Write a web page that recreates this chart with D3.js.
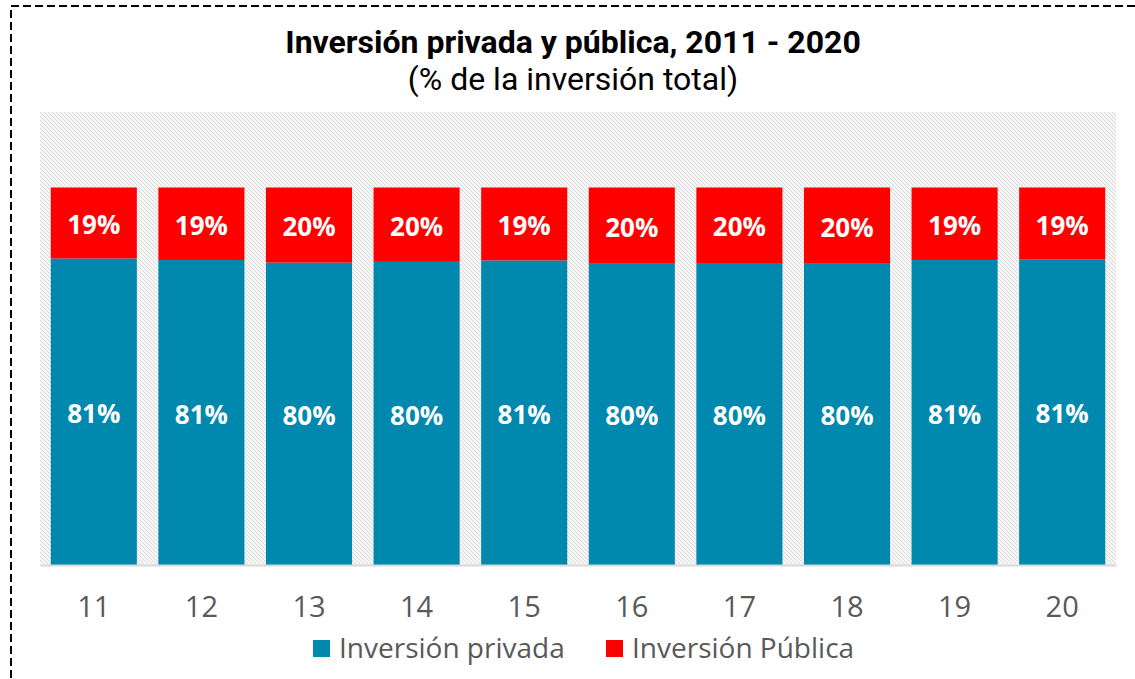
<!DOCTYPE html>
<html>
<head>
<meta charset="utf-8">
<script src="https://cdn.jsdelivr.net/npm/d3@7"></script>
<style>
  body { margin: 0; background: #fff; }
  svg { display: block; }
</style>
</head>
<body>
<svg width="1135" height="679"></svg>
<script>
var years = ["11", "12", "13", "14", "15", "16", "17", "18", "19", "20"];
var privada = [81.2, 80.8, 80.1, 80.3, 80.7, 79.8, 80.0, 79.8, 80.8, 80.9];
var publica = [18.8, 19.2, 19.9, 19.7, 19.3, 20.2, 20.0, 20.2, 19.2, 19.1];
var seriesNames = ["Inversión privada", "Inversión Pública"];
var colors = ["#0088ae", "#ff0000"];

var width = 1135;
var height = 679;
var plotLeft = 40, plotRight = 1116, plotTop = 112, plotBottom = 565;

var svg = d3.select("svg");

// hatch pattern for plot background
var defs = svg.append("defs");
var pat = defs.append("pattern")
    .attr("id", "hatch")
    .attr("patternUnits", "userSpaceOnUse")
    .attr("width", 4)
    .attr("height", 4);
pat.append("path")
    .attr("d", "M-1,-1 L5,5 M-1,3 L1,5 M3,-1 L5,1")
    .attr("stroke", "#d9d9d9")
    .attr("stroke-width", 1.2);

// dashed border
svg.append("rect")
    .attr("x", 11).attr("y", 6)
    .attr("width", width + 20).attr("height", height + 20)
    .attr("fill", "none")
    .attr("stroke", "#000")
    .attr("stroke-width", 2)
    .attr("stroke-dasharray", "8,4");

// title
svg.append("text")
    .attr("x", 573).attr("y", 53)
    .attr("text-anchor", "middle")
    .style("font-family", "Roboto")
    .style("font-weight", "bold")
    .style("font-size", "32px")
    .attr("fill", "#000")
    .text("Inversión privada y pública, 2011 - 2020");
svg.append("text")
    .attr("x", 573).attr("y", 90)
    .attr("text-anchor", "middle")
    .style("font-family", "Roboto")
    .style("font-size", "32px")
    .attr("fill", "#000")
    .text("(% de la inversión total)");

var x = d3.scaleBand().domain(years).range([plotLeft, plotRight]).paddingInner(0.2).paddingOuter(0.1);
var y = d3.scaleLinear().domain([0, 120]).range([plotBottom, plotTop]);

svg.append("rect")
    .attr("x", plotLeft).attr("y", plotTop)
    .attr("width", plotRight - plotLeft).attr("height", plotBottom - plotTop)
    .attr("fill", "url(#hatch)");

var data = years.map(function(yr, i) {
    return { year: yr, privada: privada[i], publica: publica[i] };
});
var stack = d3.stack().keys(["privada", "publica"]);
var layers = stack(data);

var g = svg.append("g");
layers.forEach(function(layer, li) {
    g.selectAll(".bar" + li)
        .data(layer)
        .enter().append("rect")
        .attr("x", function(d) { return x(d.data.year); })
        .attr("width", x.bandwidth())
        .attr("y", function(d) { return y(d[1]); })
        .attr("height", function(d) { return y(d[0]) - y(d[1]); })
        .attr("fill", colors[li]);

    g.selectAll(".lbl" + li)
        .data(layer)
        .enter().append("text")
        .attr("x", function(d) { return x(d.data.year) + x.bandwidth() / 2; })
        .attr("y", function(d) { return (y(d[0]) + y(d[1])) / 2 + 2; })
        .attr("dy", "0.35em")
        .attr("text-anchor", "middle")
        .style("font-family", "Open Sans")
        .style("font-weight", "bold")
        .style("font-size", "26px")
        .attr("fill", "#fff")
        .text(function(d) { return Math.round(d[1] - d[0]) + "%"; });
});

// x axis
var axis = svg.append("g")
    .attr("transform", "translate(0," + plotBottom + ")")
    .call(d3.axisBottom(x).tickSize(0).tickPadding(31));
axis.select(".domain").attr("stroke", "#d9d9d9").attr("stroke-width", 2);
axis.selectAll("text")
    .style("font-family", "Open Sans")
    .style("font-size", "29px")
    .attr("fill", "#595959");

// legend
var legend = svg.append("g").attr("transform", "translate(313,648)");
var lx = [0, 293];
seriesNames.forEach(function(name, i) {
    var item = legend.append("g").attr("transform", "translate(" + lx[i] + ",0)");
    item.append("rect")
        .attr("x", 0).attr("y", -8)
        .attr("width", 17).attr("height", 17)
        .attr("fill", colors[i]);
    item.append("text")
        .attr("x", 26).attr("y", 0)
        .attr("dy", "0.35em")
        .style("font-family", "Open Sans")
        .style("font-size", "28px")
        .attr("fill", "#595959")
        .text(name);
});
</script>
</body>
</html>
